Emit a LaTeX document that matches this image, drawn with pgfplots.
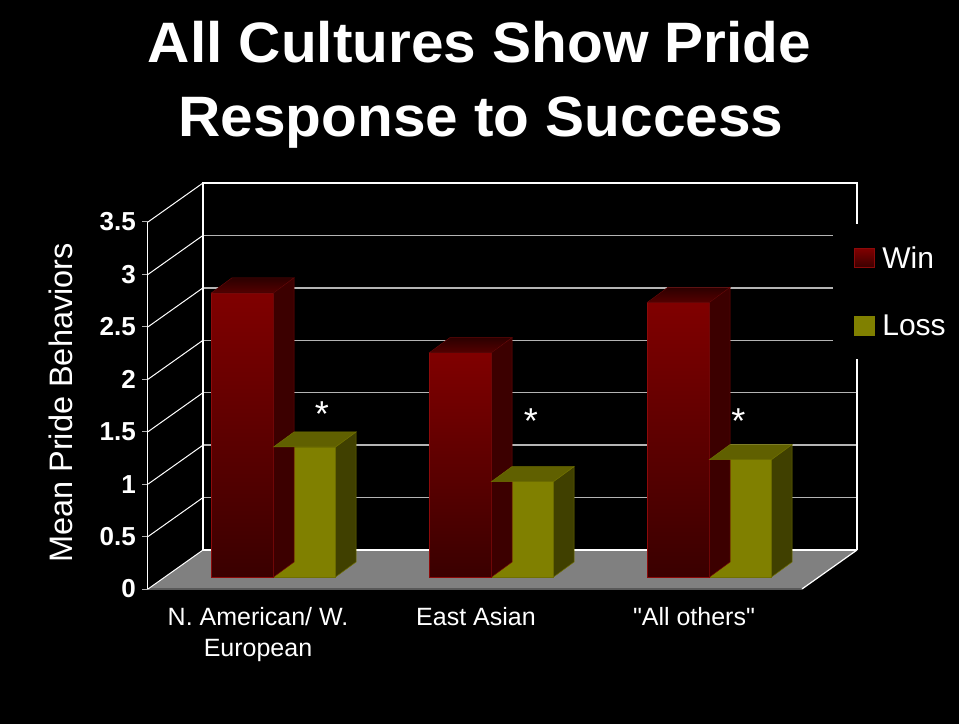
\documentclass[border=0pt]{standalone}
\usepackage{pgfplots}
\pgfplotsset{compat=1.18}
\usepackage{pgfplotstable}
\usepackage{fontspec}
\setmainfont{Liberation Sans}
\newcommand{\sq}{\XeTeXglyph\XeTeXcharglyph34\relax}

\definecolor{redtop}{HTML}{800000}
\definecolor{redbot}{HTML}{3A0000}
\definecolor{redside}{HTML}{3C0000}
\definecolor{redtopf}{HTML}{540000}
\definecolor{redtopb}{HTML}{2C0000}
\definecolor{rededge}{HTML}{8C0A0A}
\definecolor{oliveF}{HTML}{808000}
\definecolor{oliveside}{HTML}{404000}
\definecolor{olivetop}{HTML}{606000}
\definecolor{oliveedge}{HTML}{707000}
\definecolor{floorgray}{HTML}{808080}
\definecolor{gridgray}{HTML}{B4B4B4}

\tikzset{front/.style={shift={(-16.5pt,-12pt)}}, back/.style={shift={(38.5pt,27pt)}}}

\pgfplotstableread{
x win loss
0 2.71 1.24
1 2.14 0.91
2 2.62 1.12
}\pridedata

\begin{document}
\begin{tikzpicture}
\useasboundingbox (0,0) rectangle (959pt,724pt);
\fill[black] (0,0) rectangle (959pt,724pt);
\begin{axis}[
  anchor=south west, at={(164.5pt,147pt)},
  x=218pt, y=104.86pt,
  xmin=-0.5, xmax=2.5, ymin=0, ymax=3.5,
  clip=false,
  axis line style={draw=none},
  major tick length=0pt,
  xtick={0,1,2},
  xticklabels={{N. American/ W.\\European},{East Asian},{\sq All others\sq}},
  ytick={0,0.5,1,1.5,2,2.5,3,3.5},
  /pgf/number format/assume math mode=true,
  yticklabel style={font=\bfseries\fontsize{26}{26}\selectfont, text=white, inner sep=0pt, anchor=east, xshift=-28.5pt, yshift=-12pt},
  xticklabel style={font=\fontsize{25}{31.5}\selectfont, text=white, align=center, inner sep=0pt, anchor=north, xshift=-15.5pt, yshift=-30pt},
  legend style={at={(1.0222,0.9627)}, anchor=north west, fill=black, draw=none, text=white, font=\fontsize{30}{30}\selectfont, inner xsep=21pt, inner ysep=22.5pt, row sep=45pt, column sep=8pt, nodes={inner sep=0pt}},
  legend cell align=left,
]
% floor
\fill[floorgray] ([front]axis cs:-0.5,0) -- ([front]axis cs:2.5,0) -- ([back]axis cs:2.5,0) -- ([back]axis cs:-0.5,0) -- cycle;
\draw[gray!70!black, line width=2pt] ([front]axis cs:-0.5,0) -- ([front]axis cs:2.5,0);
\draw[white, line width=1.2pt] ([front]axis cs:2.5,0) -- ([back]axis cs:2.5,0);
% back wall
\pgfplotsinvokeforeach{0.5,1,1.5,2,2.5,3}{\draw[gridgray, line width=1.3pt] ([back]axis cs:-0.5,#1) -- ([back]axis cs:2.5,#1);}
\draw[white, line width=1.3pt] ([back]axis cs:-0.5,0) -- ([back]axis cs:2.5,0);
\draw[white, line width=1.3pt] ([back]axis cs:-0.5,0) -- ([back]axis cs:-0.5,3.5) -- ([back]axis cs:2.5,3.5) -- ([back]axis cs:2.5,0);
% left wall
\pgfplotsinvokeforeach{0,0.5,1,1.5,2,2.5,3,3.5}{\draw[white, line width=1pt] ([front]axis cs:-0.5,#1) -- ([back]axis cs:-0.5,#1);
  \draw[white!70!black, line width=1pt] ([front]axis cs:-0.5,#1) -- ++(-6pt,0pt);}
\draw[white, line width=1pt] ([front]axis cs:-0.5,0) -- ([front]axis cs:-0.5,3.5);

% Win bars
\addplot[ybar, bar width=62pt, bar shift=-31pt, fill=redtop, draw=rededge, line width=0.6pt,
  legend image code/.code={\draw[rededge, top color=redtop, bottom color=redbot] (0pt,-9.5pt) rectangle (19.5pt,9.5pt);}]
  table[x=x,y=win]{\pridedata};
\addlegendentry{Win}
\addplot[forget plot, scatter, only marks, mark=*, mark size=0pt,
  visualization depends on={rawy \as \hv},
  scatter/@pre marker code/.code={
    \shade[top color=redtop, bottom color=redbot] (-62pt,0pt) rectangle (0pt,{-\hv*104.86pt});
    \draw[rededge, line width=0.6pt] (-62pt,0pt) rectangle (0pt,{-\hv*104.86pt});
    \filldraw[fill=redside, draw=rededge!80!black, line width=0.5pt] (0pt,0pt) -- ++(20.5pt,15pt) -- ++(0pt,{-\hv*104.86pt}) -- ++(-20.5pt,-15pt) -- cycle;
    \shade[bottom color=redtopf, top color=redtopb] (-62pt,0pt) -- ++(20.5pt,15pt) -- ++(62pt,0pt) -- ++(-20.5pt,-15pt) -- cycle;
    \draw[rededge!80!black, line width=0.5pt] (-62pt,0pt) -- ++(20.5pt,15pt) -- ++(62pt,0pt) -- ++(-20.5pt,-15pt) -- cycle;
    \begin{scope}[opacity=0]},
  scatter/@post marker code/.code={\end{scope}}]
  table[x=x,y=win]{\pridedata};

% Loss bars
\addplot[ybar, bar width=62pt, bar shift=31pt, fill=oliveF, draw=oliveedge, line width=0.6pt,
  legend image code/.code={\fill[oliveF] (0pt,-9.5pt) rectangle (19.5pt,9.5pt);}]
  table[x=x,y=loss]{\pridedata};
\addlegendentry{Loss}
\addplot[forget plot, scatter, only marks, mark=*, mark size=0pt,
  visualization depends on={rawy \as \hv},
  scatter/@pre marker code/.code={
    \filldraw[fill=oliveside, draw=oliveedge, line width=0.5pt] (62pt,0pt) -- ++(20.5pt,15pt) -- ++(0pt,{-\hv*104.86pt}) -- ++(-20.5pt,-15pt) -- cycle;
    \filldraw[fill=olivetop, draw=oliveedge, line width=0.5pt] (0pt,0pt) -- ++(20.5pt,15pt) -- ++(62pt,0pt) -- ++(-20.5pt,-15pt) -- cycle;
    \begin{scope}[opacity=0]},
  scatter/@post marker code/.code={\end{scope}}]
  table[x=x,y=loss]{\pridedata};

% significance marks
\node[anchor=base, text=white, font=\fontsize{36}{36}\selectfont, inner sep=0pt] at (axis cs:0.222,1.435) {*};
\node[anchor=base, text=white, font=\fontsize{36}{36}\selectfont, inner sep=0pt] at (axis cs:1.181,1.371) {*};
\node[anchor=base, text=white, font=\fontsize{36}{36}\selectfont, inner sep=0pt] at (axis cs:2.132,1.371) {*};
\end{axis}

% title
\node[anchor=base, text=white, font=\bfseries\fontsize{57}{57}\selectfont, inner sep=0pt, xscale=1.027] at (479.5pt,661.7pt) {All Cultures Show Pride};
\node[anchor=base, text=white, font=\bfseries\fontsize{57}{57}\selectfont, inner sep=0pt, xscale=1.027] at (481pt,587.4pt) {Response to Success};
% y label
\node[anchor=base, text=white, font=\fontsize{32.5}{32.5}\selectfont, inner sep=0pt, rotate=90] at (72pt,321pt) {Mean Pride Behaviors};
\end{tikzpicture}
\end{document}
